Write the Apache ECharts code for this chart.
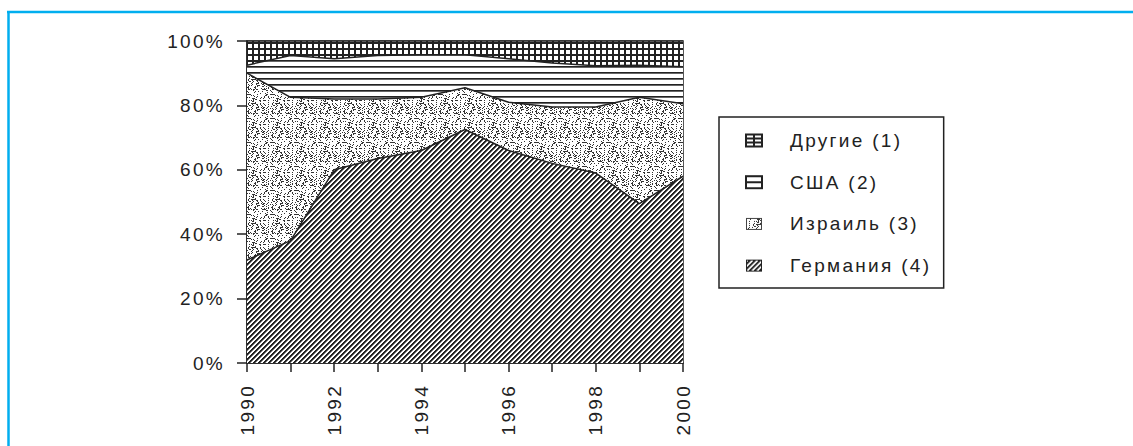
<!DOCTYPE html>
<html><head><meta charset="utf-8">
<script src="https://cdn.jsdelivr.net/npm/echarts@6/dist/echarts.min.js"></script>
<style>
html,body{margin:0;padding:0;background:#fff;}
#c{width:1133px;height:446px;letter-spacing:2.3px;}
</style></head><body><div id="c"></div>
<script>
// ---- data (shares in %) ----
const years = ['1990','1991','1992','1993','1994','1995','1996','1997','1998','1999','2000'];
const germany = [32, 38, 60, 63.5, 66, 72.5, 66, 62, 59, 49.5, 58];
const israel  = [58, 44.5, 22, 18.5, 16.5, 13, 15, 17.5, 20.5, 33, 22.5];
const usa     = [2.5, 13, 12.5, 13.5, 13.2, 10.2, 13.5, 13.7, 12.8, 10, 11.5];
const others  = [7.5, 4.5, 5.5, 4.5, 4.3, 4.3, 5.5, 6.8, 7.7, 7.5, 8];
const seriesNames = ['Германия (4)', 'Израиль (3)', 'США (2)', 'Другие (1)'];
const legendOrder = ['Другие (1)', 'США (2)', 'Израиль (3)', 'Германия (4)'];
const yMin = 0, yMax = 100, yInterval = 20;

// ---- pattern tiles ----
const INK = '#222';
function tile(w, h, draw) {
  const c = document.createElement('canvas');
  c.width = w; c.height = h;
  const g = c.getContext('2d');
  g.fillStyle = '#fff'; g.fillRect(0, 0, w, h);
  draw(g, w, h);
  return c;
}
function pix(g, x, y, col) { g.fillStyle = col; g.fillRect(x, y, 1, 1); }
function hash(x, y) {
  let h = (x * 374761393 + y * 668265263) | 0;
  h = Math.imul(h ^ (h >>> 13), 1274126177);
  h ^= h >>> 16;
  return (h >>> 0) & 255;
}
const hatchTile = tile(5, 5, (g, w, h) => {
  for (let y = 0; y < h; y++) for (let x = 0; x < w; x++) {
    const d = (x + y) % 5;
    if (d < 2) pix(g, x, y, INK); else if (d === 2) pix(g, x, y, '#777');
  }
});
const dotTile = tile(24, 24, (g, w, h) => {
  for (let y = 0; y < h; y++) for (let x = 0; x < w; x++) {
    const streak = ((x - y + 48) % 4 === 0) ? 45 : 0;
    if (hash(x, y) < 50 + streak) pix(g, x, y, '#333');
  }
});
const hlineTile = tile(6, 6, (g, w) => { g.fillStyle = INK; g.fillRect(0, 0, w, 1); g.fillStyle = '#666'; g.fillRect(0, 1, w, 1); });
const gridTile = tile(6, 6, (g, w, h) => { g.fillStyle = INK; g.fillRect(0, 0, w, 2); g.fillRect(0, 0, 2, h); });
function pattern(c) { return { image: c.toDataURL(), repeat: 'repeat', imageWidth: c.width, imageHeight: c.height }; }

// ---- legend icons ----
function icon(draw) {
  const c = document.createElement('canvas');
  c.width = 40; c.height = 14;
  const g = c.getContext('2d');
  draw(g);
  return 'image://' + c.toDataURL();
}
const icons = {
  'Другие (1)': icon(g => { g.fillStyle = '#fff'; g.fillRect(1,1,16,12); g.strokeStyle = INK; g.lineWidth = 2; g.strokeRect(1,1,16,12); g.beginPath(); g.moveTo(9,1); g.lineTo(9,13); g.moveTo(1,5); g.lineTo(17,5); g.moveTo(1,9); g.lineTo(17,9); g.stroke(); }),
  'США (2)': icon(g => { g.fillStyle = '#fff'; g.fillRect(1,1,16,12); g.strokeStyle = INK; g.lineWidth = 2; g.strokeRect(1,1,16,12); g.beginPath(); g.moveTo(1,7); g.lineTo(17,7); g.stroke(); }),
  'Израиль (3)': icon(g => { const p = g.createPattern(dotTile, 'repeat'); g.fillStyle = p; g.fillRect(1,1,16,12); g.fillRect(1,1,16,12); g.strokeStyle = '#444'; g.lineWidth = 1; g.strokeRect(1.5,1.5,15,11); }),
  'Германия (4)': icon(g => { const p = g.createPattern(hatchTile, 'repeat'); g.fillStyle = p; g.fillRect(1,1,16,12); g.strokeStyle = INK; g.lineWidth = 1; g.strokeRect(1.5,1.5,15,11); })
};

const fills = [pattern(hatchTile), pattern(dotTile), pattern(hlineTile), pattern(gridTile)];
const values = [germany, israel, usa, others];
const FONT = "'Liberation Sans', Arial, sans-serif";
const FS = 19;

const chart = echarts.init(document.getElementById('c'), null, { renderer: 'svg' });
chart.setOption({
  animation: false,
  backgroundColor: '#fff',
  textStyle: { fontFamily: FONT },
  graphic: [
    { type: 'line', shape: { x1: 7, y1: 12, x2: 1133, y2: 12 }, style: { stroke: '#00aeef', lineWidth: 2.5 }, silent: true },
    { type: 'line', shape: { x1: 8.5, y1: 11, x2: 8.5, y2: 446 }, style: { stroke: '#00aeef', lineWidth: 2.5 }, silent: true }
  ],
  grid: { left: 247, right: 450, top: 41, bottom: 83, show: true, borderColor: INK, borderWidth: 1.5, containLabel: false, outerBoundsMode: 'none' },
  legend: {
    orient: 'vertical', left: 719, top: 117, selectedMode: false,
    data: legendOrder.map(n => ({ name: n, icon: icons[n] })),
    itemWidth: 40, itemHeight: 14, itemGap: 22.7,
    padding: [14, 40, 13, 26],
    borderColor: INK, borderWidth: 1.5,
    textStyle: { fontSize: FS, color: INK, fontFamily: FONT }
  },
  xAxis: {
    type: 'category', data: years, boundaryGap: false,
    axisLine: { lineStyle: { color: INK, width: 1.5 } },
    axisTick: { show: true, interval: 0, length: 9, lineStyle: { color: INK, width: 1.5 } },
    axisLabel: { interval: 1, rotate: 90, margin: 21, fontSize: FS, color: INK, fontFamily: FONT },
    splitLine: { show: false }
  },
  yAxis: {
    type: 'value', min: yMin, max: yMax, interval: yInterval,
    axisLine: { show: true, lineStyle: { color: INK, width: 1.5 } },
    axisTick: { show: true, length: 10, lineStyle: { color: INK, width: 1.5 } },
    axisLabel: { formatter: '{value}%', margin: 22, fontSize: FS, color: INK, fontFamily: FONT },
    splitLine: { show: false }
  },
  series: seriesNames.map((name, i) => ({
    name, type: 'line', stack: 'total', data: values[i],
    symbol: 'none', smooth: false,
    lineStyle: { color: INK, width: 1.5 },
    itemStyle: { color: INK },
    areaStyle: { color: fills[i], opacity: 1 }
  }))
});
</script></body></html>
